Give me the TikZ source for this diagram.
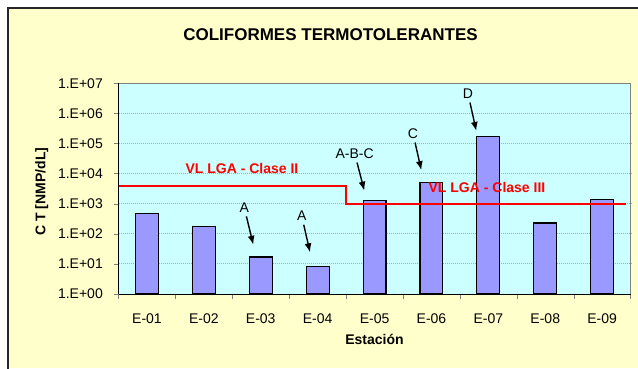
\documentclass[tikz,border=0pt]{standalone}
\usepackage{fontspec}
\setmainfont{Liberation Sans}
\usepackage{tikz}
\usetikzlibrary{arrows.meta}
\definecolor{chartbg}{RGB}{255,255,204}
\definecolor{plotbg}{RGB}{204,255,255}
\definecolor{barfill}{RGB}{153,153,255}
\definecolor{gridcol}{RGB}{150,190,150}
\definecolor{framecol}{RGB}{128,128,128}
\definecolor{limitred}{RGB}{255,0,0}

\begin{document}
\begin{tikzpicture}[x=1pt,y=1pt,
    txt/.style={inner sep=1pt,font=\fontsize{14}{16}\selectfont},
    btxt/.style={inner sep=1pt,font=\fontsize{14}{16}\selectfont\bfseries},
    bar/.style={fill=barfill,draw=black,line width=1.1pt},
    gridln/.style={gridcol,line width=0.9pt,dash pattern=on 1pt off 1pt},
    limitln/.style={draw=limitred,line width=1.8pt},
    pointer/.style={line width=1.4pt,-{Latex[length=9pt,width=7pt]},shorten <=3pt}]
    \useasboundingbox (0,0) rectangle (638,368);
    \fill[chartbg] (8,0) rectangle (638,360);
    \draw[line width=2pt,black!85] (8,-1) -- (8,360) -- (639,360);
    \node[inner sep=1pt,font=\fontsize{17}{20}\selectfont\bfseries] (title) at (330.5,333) {COLIFORMES TERMOTOLERANTES};
    \node[btxt,rotate=90] (ytitle) at (41.7,176.5) {C T [NMP/dL]};
    \begin{scope}[shift={(118.5,74)},x=56.9pt,y=30.1pt]
      \fill[plotbg] (0,0) rectangle (9,7);
      \foreach \k in {1,...,6}
        \draw[gridln] (0,\k) -- (9,\k);
      \draw[framecol,line width=1.5pt] (0,7) -- (9,7) -- (9,0);
      \foreach \k in {0,...,7}
        \draw[framecol] (0,\k) -- ++(-4.5pt,0) node[txt,anchor=east,black,xshift=-10pt] (ylab\k) {1.E+0\k};
      \foreach \i/\v in {1/2.68,2/2.23,3/1.23,4/0.90,5/3.11,6/3.69,7/5.22,8/2.36,9/3.14}
        \draw[bar] (\i-0.702,0) rectangle (\i-0.298,\v);
      \foreach \i in {0,...,9}
        \draw[framecol] (\i,0) -- ++(0,-4.5pt);
      \draw[line width=1pt] (0,0) -- (0,7);
      \draw[line width=1pt] (0,0) -- (9,0);
      \foreach \i in {1,...,9}
        \node[txt,yshift=-24.3pt] (xlab\i) at (\i-0.5,0) {E-0\i};
      \node[btxt,yshift=-45.7pt] (xtitle) at (4.5,0) {Estación};
      \draw[limitln] (0,3.6) -- (4,3.6) -- (4,3) -- (8.92,3);
      \node[btxt,text=limitred] (clase2) at (2.17,4.17) {VL LGA - Clase II};
      \node[btxt,text=limitred] (clase3) at (6.476,3.527) {VL LGA - Clase III};
      \node[txt] (lblA3) at (2.21,2.877) {A};
      \coordinate (tipA3) at (2.369,1.636);
      \draw[pointer] (lblA3) -- (tipA3);
      \node[txt] (lblA4) at (3.22,2.598) {A};
      \coordinate (tipA4) at (3.366,1.384);
      \draw[pointer] (lblA4) -- (tipA4);
      \node[txt] (lblABC) at (4.151,4.668) {A-B-C};
      \coordinate (tipABC) at (4.32,3.434);
      \draw[pointer] (lblABC) -- (tipABC);
      \node[txt] (lblC) at (5.176,5.332) {C};
      \coordinate (tipC) at (5.322,4.114);
      \draw[pointer] (lblC) -- (tipC);
      \node[txt] (lblD) at (6.142,6.659) {D};
      \coordinate (tipD) at (6.288,5.418);
      \draw[pointer] (lblD) -- (tipD);
    \end{scope}
\end{tikzpicture}
\end{document}
